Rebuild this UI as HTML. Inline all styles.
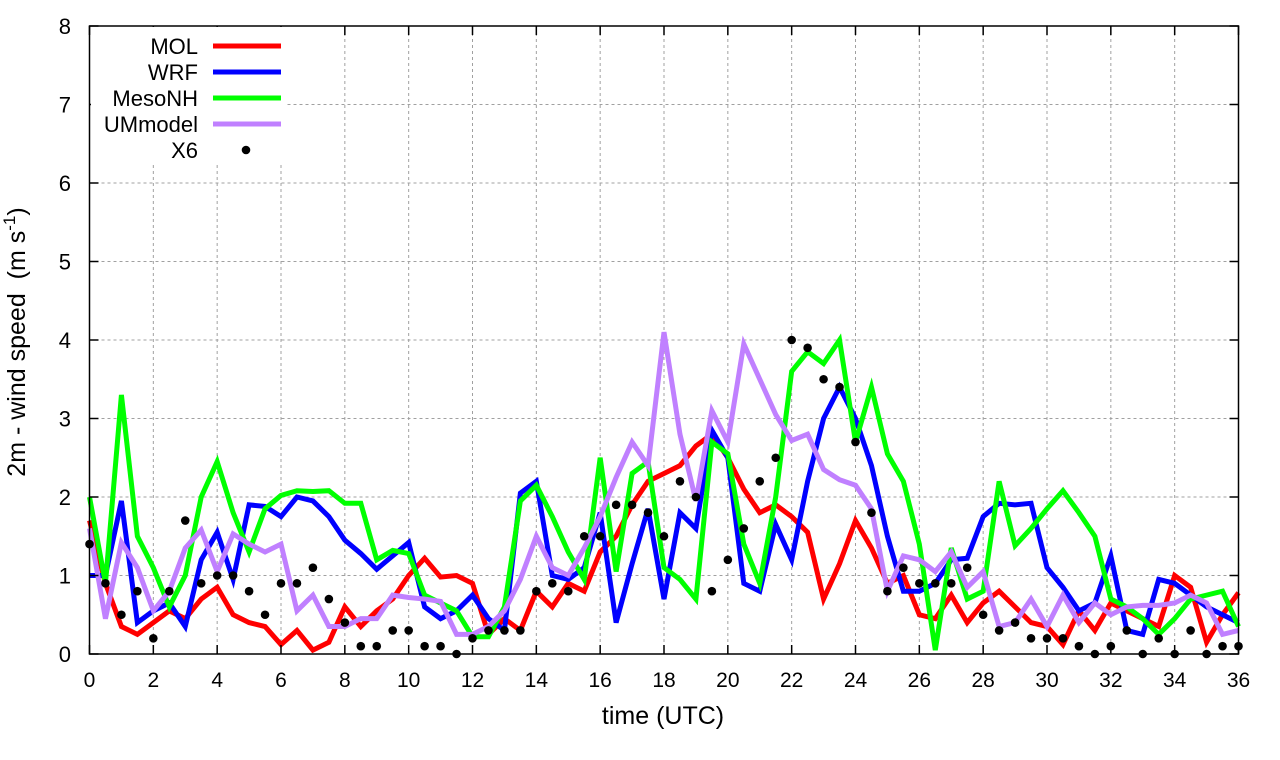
<!DOCTYPE html>
<html><head><meta charset="utf-8"><style>
body{margin:0;background:#fff;}
svg{display:block;font-family:"Liberation Sans",sans-serif;}
</style></head><body>
<svg id="chart" width="1280" height="760" viewBox="0 0 1280 760">
<rect width="1280" height="760" fill="#fff"/>
<g id="grid"></g>
<g id="series"></g>
<g id="axes"></g>
<g id="legend"></g>
<text x="663" y="724" font-size="25" text-anchor="middle">time (UTC)</text>
<text transform="translate(25,342) rotate(-90)" font-size="25" text-anchor="middle" xml:space="preserve">2m - wind speed  (m s<tspan dy="-10" font-size="17">-1</tspan><tspan dy="10">)</tspan></text>
</svg>
<script>
const xTicks=[0,2,4,6,8,10,12,14,16,18,20,22,24,26,28,30,32,34,36];
const yTicks=[0,1,2,3,4,5,6,7,8];
const MOL=[1.7,0.9,0.35,0.25,0.4,0.55,0.45,0.7,0.85,0.5,0.4,0.35,0.12,0.3,0.05,0.15,0.6,0.35,0.55,0.7,1.0,1.22,0.98,1.0,0.9,0.25,0.45,0.3,0.8,0.6,0.9,0.8,1.3,1.5,1.9,2.2,2.3,2.4,2.65,2.8,2.5,2.1,1.8,1.9,1.75,1.55,0.7,1.15,1.7,1.35,0.9,1.0,0.5,0.45,0.75,0.4,0.65,0.8,0.6,0.4,0.35,0.12,0.55,0.3,0.65,0.55,0.45,0.35,1.0,0.85,0.15,0.5,0.78];
const WRF=[1.0,1.0,1.95,0.4,0.55,0.65,0.35,1.2,1.55,0.95,1.9,1.88,1.75,2.0,1.95,1.75,1.45,1.28,1.08,1.25,1.42,0.6,0.45,0.55,0.75,0.45,0.3,2.05,2.2,1.0,0.95,1.1,1.8,0.4,1.15,1.85,0.7,1.8,1.6,2.85,2.5,0.9,0.8,1.65,1.2,2.2,3.0,3.4,3.0,2.4,1.5,0.8,0.8,0.9,1.2,1.22,1.75,1.92,1.9,1.92,1.1,0.85,0.55,0.65,1.25,0.3,0.25,0.95,0.9,0.75,0.6,0.5,0.4];
const MesoNH=[2.0,0.9,3.3,1.5,1.1,0.6,1.0,2.0,2.45,1.8,1.3,1.85,2.02,2.08,2.07,2.08,1.92,1.92,1.2,1.32,1.28,0.75,0.65,0.55,0.22,0.22,0.6,1.95,2.15,1.75,1.3,0.95,2.5,1.05,2.3,2.45,1.1,0.95,0.7,2.7,2.55,1.4,0.9,2.0,3.6,3.85,3.7,4.0,2.7,3.4,2.55,2.2,1.4,0.05,1.35,0.7,0.8,2.2,1.38,1.6,1.85,2.08,1.8,1.5,0.7,0.6,0.45,0.25,0.45,0.7,0.75,0.8,0.35];
const UMmodel=[1.6,0.45,1.42,1.1,0.55,0.8,1.35,1.58,1.05,1.53,1.4,1.3,1.4,0.55,0.75,0.35,0.35,0.45,0.45,0.75,0.72,0.7,0.67,0.25,0.25,0.35,0.55,0.95,1.5,1.1,1.0,1.35,1.75,2.25,2.7,2.4,4.1,2.8,1.95,3.1,2.7,3.95,3.5,3.05,2.72,2.8,2.35,2.22,2.15,1.85,0.8,1.25,1.2,1.05,1.3,0.85,1.05,0.35,0.4,0.7,0.35,0.75,0.4,0.65,0.5,0.6,0.62,0.62,0.65,0.75,0.65,0.25,0.3];
const X6=[1.4,0.9,0.5,0.8,0.2,0.8,1.7,0.9,1.0,1.0,0.8,0.5,0.9,0.9,1.1,0.7,0.4,0.1,0.1,0.3,0.3,0.1,0.1,0.0,0.2,0.3,0.3,0.3,0.8,0.9,0.8,1.5,1.5,1.9,1.9,1.8,1.5,2.2,2.0,0.8,1.2,1.6,2.2,2.5,4.0,3.9,3.5,3.4,2.7,1.8,0.8,1.1,0.9,0.9,0.9,1.1,0.5,0.3,0.4,0.2,0.2,0.2,0.1,0.0,0.1,0.3,0.0,0.2,0.0,0.3,0.0,0.1,0.1];
const x0=89.5,x1=1238.5,y0=654,y1=26;
const sx=t=>x0+(x1-x0)*t/36, sy=v=>y0-(y0-y1)*v/8;
const NS='http://www.w3.org/2000/svg';
function mk(tag,parent,attrs){const e=document.createElementNS(NS,tag);for(const k in attrs)e.setAttribute(k,attrs[k]);parent.appendChild(e);return e;}
const grid=document.getElementById('grid'),axes=document.getElementById('axes'),ser=document.getElementById('series'),leg=document.getElementById('legend');
xTicks.forEach(t=>{
 const g=mk('line',grid,{x1:sx(t),x2:sx(t),y1:y0,y2:y1,stroke:'#a0a0a0','stroke-width':1,'stroke-dasharray':'3,3'});
 
 
 const tk=mk('path',axes,{d:`M${sx(t)},${y0}v-9M${sx(t)},${y1}v9`,stroke:'#000','stroke-width':1.5});
 
 
 const lb=mk('text',axes,{x:sx(t),y:687,'font-size':21,'text-anchor':'middle'});lb.textContent=t;
 
 
});
yTicks.forEach(v=>{
 const g=mk('line',grid,{x1:x0,x2:x1,y1:sy(v),y2:sy(v),stroke:'#a0a0a0','stroke-width':1,'stroke-dasharray':'3,3'});
 
 
 const tk=mk('path',axes,{d:`M${x0},${sy(v)}h9M${x1},${sy(v)}h-9`,stroke:'#000','stroke-width':1.5});
 
 
 const lb=mk('text',axes,{x:71,y:sy(v)+8,'font-size':22,'text-anchor':'end'});lb.textContent=v;
 
 
});
const frame=mk('rect',axes,{x:x0,y:y1,width:x1-x0,height:y0-y1,fill:'none',stroke:'#000','stroke-width':1.5});


const series=[['MOL',MOL,'#ff0000'],['WRF',WRF,'#0000ff'],['MesoNH',MesoNH,'#00ff00'],['UMmodel',UMmodel,'#c080ff']];
series.forEach(([n,d,c])=>{
 const p=mk('polyline',ser,{points:d.map((v,i)=>sx(i*0.5)+','+sy(v)).join(' '),fill:'none',stroke:c,'stroke-width':5,'stroke-linejoin':'miter'});
 
 
});
X6.forEach((v,i)=>{
 const c=mk('circle',ser,{cx:sx(i*0.5),cy:sy(v),r:4.3,fill:'#000'});
 
 
});
const bg=mk('rect',leg,{x:91,y:27,width:196,height:138,fill:'#fff'});


const names=['MOL','WRF','MesoNH','UMmodel','X6'],cols=['#ff0000','#0000ff','#00ff00','#c080ff','#000'];
names.forEach((n,i)=>{
 const y=46+i*26;
 const t=mk('text',leg,{x:198,y:y+8,'font-size':22,'text-anchor':'end'});t.textContent=n;
 
 
 let s;
 if(i<4){s=mk('line',leg,{x1:213,x2:281,y1:y,y2:y,stroke:cols[i],'stroke-width':5});}
 else{s=mk('circle',leg,{cx:246,cy:y,r:4.3,fill:'#000'});}
 
 
});
</script>
</body></html>
